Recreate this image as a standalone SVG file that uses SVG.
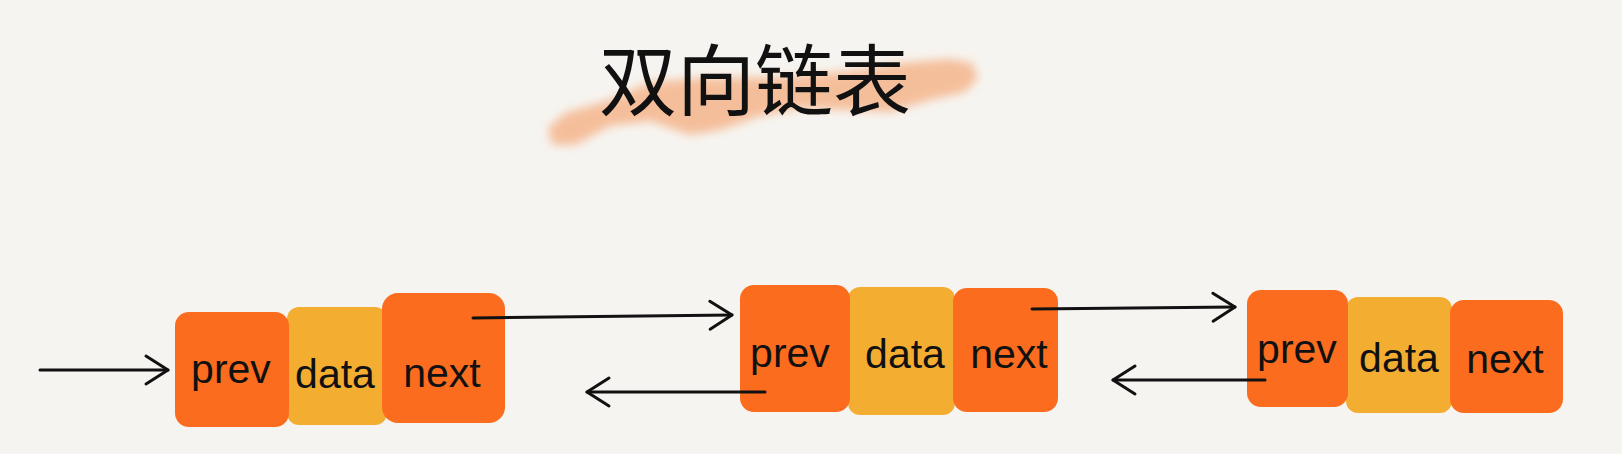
<svg xmlns="http://www.w3.org/2000/svg" width="1622" height="454" viewBox="0 0 1622 454">
  <style>
    .orange { fill: #fb6c1e; }
    .yellow { fill: #f3ae32; }
    .lbl { font-family: "Liberation Sans", "DejaVu Sans", sans-serif; font-size: 41px; fill: #111; text-anchor: middle; }
    .title { font-family: "Noto Sans CJK SC", "Noto Sans", sans-serif; font-size: 78px; fill: #111; text-anchor: middle; }
    .conn { stroke: #111; stroke-width: 3; fill: none; stroke-linecap: round; }
  </style>
  <defs>
    <marker id="arrow" markerUnits="userSpaceOnUse" markerWidth="30" markerHeight="34" viewBox="-26 -17 30 34" refX="0" refY="0" orient="auto">
      <path d="M -22 -14 L 0 0 L -22 14" fill="none" stroke="#111" stroke-width="3" stroke-linecap="round" stroke-linejoin="round"/>
    </marker>
    <filter id="soft" x="-10%" y="-50%" width="120%" height="200%">
      <feGaussianBlur stdDeviation="5"/>
    </filter>
  </defs>
  <rect x="0" y="0" width="1622" height="454" fill="#f6f4f0"/>

  <g id="title">
    <path d="M 548 128 L 565 113 L 610 100 L 650 82 L 700 78 L 780 77 L 850 71 L 900 63 L 950 59 L 972 63 L 978 78 L 965 92 L 930 100 L 890 112 L 850 110 L 800 108 L 760 116 L 720 130 L 690 135 L 650 121 L 610 126 L 575 145 L 552 145 Z" fill="#f5b58c" opacity="0.85" filter="url(#soft)"/>
    <text class="title" x="755" y="110">双向链表</text>
  </g>

  <g id="node1">
    <rect class="yellow" x="287" y="307" width="100" height="118" rx="12"/>
    <rect class="orange" x="175" y="312" width="114" height="115" rx="14"/>
    <rect class="orange" x="382" y="293" width="123" height="130" rx="16"/>
    <text class="lbl" x="231" y="383">prev</text>
    <text class="lbl" x="335" y="388">data</text>
    <text class="lbl" x="442" y="387">next</text>
  </g>

  <g id="node2">
    <rect class="yellow" x="848" y="287" width="107" height="128" rx="12"/>
    <rect class="orange" x="740" y="285" width="110" height="127" rx="14"/>
    <rect class="orange" x="953" y="288" width="105" height="124" rx="14"/>
    <text class="lbl" x="790" y="367">prev</text>
    <text class="lbl" x="905" y="368">data</text>
    <text class="lbl" x="1009" y="368">next</text>
  </g>

  <g id="node3">
    <rect class="yellow" x="1346" y="297" width="106" height="116" rx="12"/>
    <rect class="orange" x="1247" y="290" width="101" height="117" rx="14"/>
    <rect class="orange" x="1450" y="300" width="113" height="113" rx="14"/>
    <text class="lbl" x="1297" y="363">prev</text>
    <text class="lbl" x="1399" y="372">data</text>
    <text class="lbl" x="1505" y="373">next</text>
  </g>

  <g id="connectors">
    <line class="conn" x1="40" y1="370" x2="168" y2="370" marker-end="url(#arrow)"/>
    <line class="conn" x1="473" y1="318" x2="732" y2="315" marker-end="url(#arrow)"/>
    <line class="conn" x1="765" y1="392" x2="587" y2="392" marker-end="url(#arrow)"/>
    <line class="conn" x1="1032" y1="309" x2="1235" y2="307" marker-end="url(#arrow)"/>
    <line class="conn" x1="1265" y1="380" x2="1113" y2="380" marker-end="url(#arrow)"/>
  </g>
</svg>
